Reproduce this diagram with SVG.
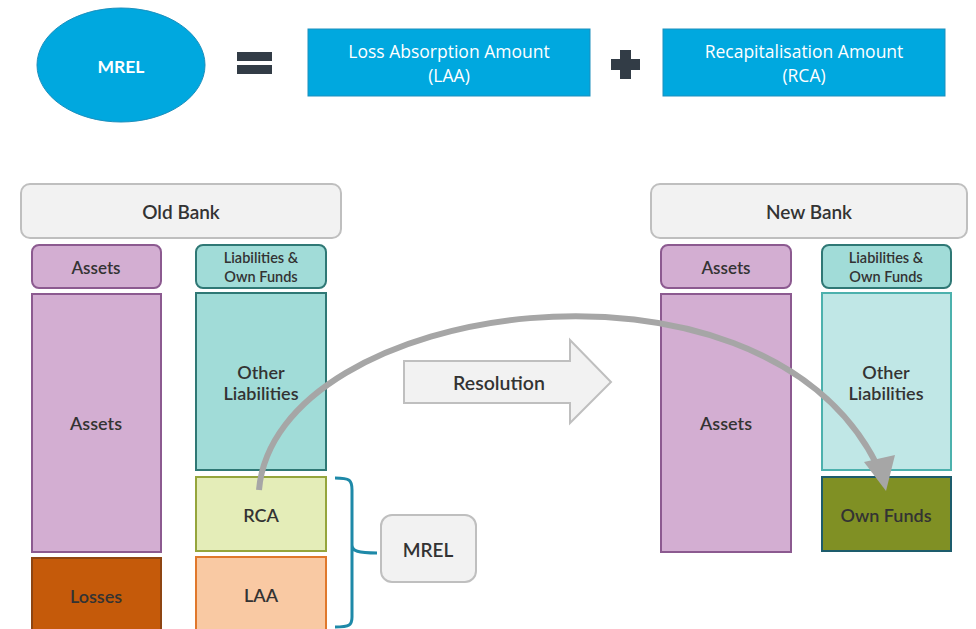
<svg xmlns="http://www.w3.org/2000/svg" width="976" height="629" viewBox="0 0 976 629">
<defs>
<style>
.t{font-family:Lato,"Open Sans",sans-serif;fill:#333333;font-weight:600;text-anchor:middle;dominant-baseline:central}
.top{font-family:"Open Sans","Noto Sans",sans-serif;fill:#ffffff;font-size:17.5px;text-anchor:middle;dominant-baseline:central}
.hdr{fill:#f2f2f2;stroke:#bfbfbf;stroke-width:2}
.ah{fill:#d3aed2;stroke:#8c5a90;stroke-width:2}
.lh{fill:#a1dcd8;stroke:#2f7875;stroke-width:2}
.blue{fill:#00a8df;stroke:#1c8fbd;stroke-width:1}
</style>
</defs>
<g id="mrel-eq">
<ellipse cx="121" cy="65" rx="84" ry="57" class="blue"/>
<text x="121" y="66" class="t" style="fill:#fff;font-weight:bold;font-size:17.5px">MREL</text>
<rect x="237" y="52" width="35" height="9" fill="#323c46"/>
<rect x="237" y="65" width="35" height="9" fill="#323c46"/>
</g>
<g id="laa-def">
<rect x="308" y="29" width="282" height="67" class="blue"/>
<text x="449" y="51" class="top">Loss Absorption Amount</text>
<text x="449" y="75" class="top">(LAA)</text>
</g>
<g id="plus">
<rect x="620" y="50" width="11" height="29" fill="#323c46"/>
<rect x="611" y="59" width="29" height="11" fill="#323c46"/>
</g>
<g id="rca-def">
<rect x="663" y="29" width="282" height="67" class="blue"/>
<text x="804" y="51" class="top">Recapitalisation Amount</text>
<text x="804" y="75" class="top">(RCA)</text>
</g>
<g id="old-bank">
<rect x="21" y="184" width="320" height="54" rx="9" class="hdr"/>
<text x="181" y="211" class="t" style="font-size:19px">Old Bank</text>
</g>
<g id="old-assets-h">
<rect x="32" y="245" width="129" height="43" rx="7" class="ah"/>
<text x="96" y="267" class="t" style="font-size:17px">Assets</text>
</g>
<g id="old-liab-h">
<rect x="196" y="245" width="130" height="43" rx="7" class="lh"/>
<text x="261" y="257" class="t" style="font-size:14.5px">Liabilities &amp;</text>
<text x="261" y="276" class="t" style="font-size:14.5px">Own Funds</text>
</g>
<g id="old-assets">
<rect x="32" y="294" width="129" height="258" class="ah"/>
<text x="96" y="423" class="t" style="font-size:18px">Assets</text>
</g>
<g id="old-other">
<rect x="196" y="293" width="130" height="177" class="lh"/>
<text x="261" y="372" class="t" style="font-size:18px">Other</text>
<text x="261" y="393" class="t" style="font-size:18px">Liabilities</text>
</g>
<g id="rca">
<rect x="196" y="477" width="130" height="74" fill="#e4edb8" stroke="#95a53c" stroke-width="2"/>
<text x="261" y="515" class="t" style="font-size:18px">RCA</text>
</g>
<g id="laa">
<rect x="196" y="557" width="130" height="80" fill="#f9c9a3" stroke="#e0782c" stroke-width="2"/>
<text x="261" y="595" class="t" style="font-size:18px">LAA</text>
</g>
<g id="losses">
<rect x="32" y="558" width="129" height="80" fill="#c55a0a" stroke="#8e4512" stroke-width="2"/>
<text x="96" y="596" class="t" style="font-size:18px">Losses</text>
</g>
<g id="mrel-box">
<rect x="381" y="515" width="95" height="67" rx="11" class="hdr"/>
<text x="428" y="549" class="t" style="font-size:19px">MREL</text>
</g>
<g id="resolution">
<polygon points="404,361 570,361 570,340 611,382 570,423 570,403 404,403" class="hdr"/>
<text x="499" y="382" class="t" style="font-size:19.5px">Resolution</text>
</g>
<g id="new-bank">
<rect x="651" y="184" width="316" height="54" rx="9" class="hdr"/>
<text x="809" y="211" class="t" style="font-size:19px">New Bank</text>
</g>
<g id="new-assets-h">
<rect x="661" y="245" width="130" height="43" rx="7" class="ah"/>
<text x="726" y="267" class="t" style="font-size:17px">Assets</text>
</g>
<g id="new-liab-h">
<rect x="822" y="245" width="129" height="43" rx="7" class="lh"/>
<text x="886" y="257" class="t" style="font-size:14.5px">Liabilities &amp;</text>
<text x="886" y="276" class="t" style="font-size:14.5px">Own Funds</text>
</g>
<g id="new-assets">
<rect x="661" y="294" width="130" height="258" class="ah"/>
<text x="726" y="423" class="t" style="font-size:18px">Assets</text>
</g>
<g id="new-other">
<rect x="822" y="293" width="129" height="177" fill="#c0e7e6" stroke="#4cb1ad" stroke-width="2"/>
<text x="886" y="372" class="t" style="font-size:18px">Other</text>
<text x="886" y="393" class="t" style="font-size:18px">Liabilities</text>
</g>
<g id="own-funds">
<rect x="822" y="477" width="129" height="74" fill="#809024" stroke="#1d5c6c" stroke-width="2"/>
<text x="886" y="515" class="t" style="font-size:18px">Own Funds</text>
</g>
<g id="connectors">
<path d="M335,478 C350,478 352,480 352,490 L352,545 C352,551 358,553 377,553 M352,545 C352,555 352,551 352,560 L352,617 C352,625 350,627 335,627" fill="none" stroke="#1e89a8" stroke-width="3"/>
<path d="M259,490 C275,300 760,230 877,465" fill="none" stroke="#a6a6a6" stroke-width="6"/>
<polygon points="864,462 895,455 886,491" fill="#a6a6a6"/>
</g>
</svg>
